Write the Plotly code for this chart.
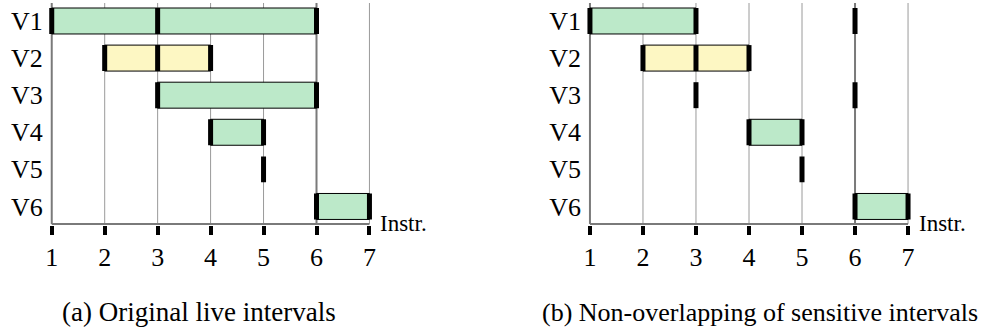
import plotly.graph_objects as go

# ---------------- data ----------------
variables = ["V1", "V2", "V3", "V4", "V5", "V6"]
instructions = [1, 2, 3, 4, 5, 6, 7]
x_axis_label = "Instr."
captions = ["(a) Original live intervals", "(b) Non-overlapping of sensitive intervals"]

# panel (a): interval segments
a_seg_var = ["V1", "V1", "V2", "V2", "V3", "V4", "V6"]
a_seg_start = [1, 3, 2, 3, 3, 4, 6]
a_seg_end = [3, 6, 3, 4, 6, 5, 7]
a_seg_kind = ["g", "g", "y", "y", "g", "g", "g"]
# panel (a): boundary markers
a_mark_var = ["V1", "V1", "V1", "V2", "V2", "V2", "V3", "V3", "V4", "V4", "V5", "V6", "V6"]
a_mark_x = [1, 3, 6, 2, 3, 4, 3, 6, 4, 5, 5, 6, 7]

# panel (b): interval segments
b_seg_var = ["V1", "V2", "V2", "V4", "V6"]
b_seg_start = [1, 2, 3, 4, 6]
b_seg_end = [3, 3, 4, 5, 7]
b_seg_kind = ["g", "y", "y", "g", "g"]
# panel (b): boundary markers
b_mark_var = ["V1", "V1", "V1", "V2", "V2", "V2", "V3", "V3", "V4", "V4", "V5", "V6", "V6"]
b_mark_x = [1, 3, 6, 2, 3, 4, 3, 6, 4, 5, 5, 6, 7]

# ---------------- styling / layout ----------------
W, H = 983, 336
FONT = "Liberation Serif"
GREEN = "#bce9c9"
YELLOW = "#fdf7c3"
GRID = "#9a9a9a"
AXIS = "#7a7a7a"
GRID_WIDTH = {6: 2}  # the instruction-6 grid line is drawn heavier in the original
HALF = 0.35          # half bar height (row units)
Y_TOP = 0.434        # y-range top
Y_BOT = 6.5          # y-range bottom
AXIS_Y = 6.472       # axis line position
GRID_TOP = 0.515
X_RANGE = [0.85, 7.12]

row = {v: i + 1 for i, v in enumerate(variables)}

fig = go.Figure()


def add_panel(xa, ya, seg_var, seg_start, seg_end, seg_kind, mark_var, mark_x):
    # grid lines
    for t in instructions[1:]:
        wdt = GRID_WIDTH.get(t, 1)
        fig.add_trace(go.Scatter(x=[t, t], y=[GRID_TOP, AXIS_Y], mode="lines",
                                 line=dict(color=GRID if wdt == 1 else AXIS, width=wdt),
                                 xaxis=xa, yaxis=ya, hoverinfo="skip", showlegend=False))
    # vertical axis at first instruction
    fig.add_trace(go.Scatter(x=[instructions[0], instructions[0]], y=[GRID_TOP, AXIS_Y], mode="lines",
                             line=dict(color=AXIS, width=2), xaxis=xa, yaxis=ya,
                             hoverinfo="skip", showlegend=False))
    # horizontal axis line
    fig.add_trace(go.Scatter(x=[instructions[0], instructions[-1]], y=[AXIS_Y, AXIS_Y], mode="lines",
                             line=dict(color=AXIS, width=2), xaxis=xa, yaxis=ya,
                             hoverinfo="skip", showlegend=False))
    # bars
    for kind, col in (("g", GREEN), ("y", YELLOW)):
        px, py = [], []
        for v, s, e, k in zip(seg_var, seg_start, seg_end, seg_kind):
            if k != kind:
                continue
            r = row[v]
            px += [s, e, e, s, s, None]
            py += [r - HALF, r - HALF, r + HALF, r + HALF, r - HALF, None]
        if px:
            fig.add_trace(go.Scatter(x=px, y=py, mode="lines", fill="toself", fillcolor=col,
                                     line=dict(color="black", width=1), xaxis=xa, yaxis=ya,
                                     hoverinfo="skip", showlegend=False))
    # boundary markers
    mx, my = [], []
    for v, x in zip(mark_var, mark_x):
        r = row[v]
        mx += [x, x, None]
        my += [r - HALF, r + HALF, None]
    fig.add_trace(go.Scatter(x=mx, y=my, mode="lines", line=dict(color="black", width=5),
                             xaxis=xa, yaxis=ya, hoverinfo="skip", showlegend=False))


add_panel("x", "y", a_seg_var, a_seg_start, a_seg_end, a_seg_kind, a_mark_var, a_mark_x)
add_panel("x2", "y2", b_seg_var, b_seg_start, b_seg_end, b_seg_kind, b_mark_var, b_mark_x)

dom_a = [43.8 / W, 375.8 / W]
dom_b = [582.0 / W, 914.4 / W]

xaxis_common = dict(range=X_RANGE, tickvals=instructions, ticktext=[str(t) for t in instructions],
                    ticks="outside", ticklen=9, tickwidth=4, tickcolor="black",
                    showgrid=False, zeroline=False, showline=False,
                    tickfont=dict(family=FONT, size=26, color="black"), fixedrange=True)
yaxis_common = dict(range=[Y_BOT, Y_TOP], tickvals=[row[v] for v in variables], ticktext=variables,
                    ticks="", showgrid=False, zeroline=False, showline=False,
                    tickfont=dict(family=FONT, size=26, color="black"), fixedrange=True)

fig.update_layout(
    width=W, height=H,
    margin=dict(l=0, r=0, t=0, b=111, pad=0),
    paper_bgcolor="white", plot_bgcolor="white",
    showlegend=False,
    font=dict(family=FONT, color="black"),
    xaxis=dict(domain=dom_a, anchor="y", **xaxis_common),
    yaxis=dict(domain=[0, 1], anchor="x", **yaxis_common),
    xaxis2=dict(domain=dom_b, anchor="y2", **xaxis_common),
    yaxis2=dict(domain=[0, 1], anchor="x2", **yaxis_common),
)

# "Instr." labels, just right of the last instruction tick
instr_x = (7.17 - X_RANGE[0]) / (X_RANGE[1] - X_RANGE[0])
for xr, yr in (("x domain", "y"), ("x2 domain", "y2")):
    fig.add_annotation(x=instr_x, y=AXIS_Y, xref=xr, yref=yr, text=x_axis_label, showarrow=False,
                       xanchor="left", yanchor="middle",
                       font=dict(family=FONT, size=23, color="black"))

# captions
cap_y = (225 - 312) / 225
for cx, txt, fs in zip((199 / W, 760 / W), captions, (27, 26)):
    fig.add_annotation(x=cx, y=cap_y, xref="paper", yref="paper", text=txt, showarrow=False,
                       xanchor="center", yanchor="middle",
                       font=dict(family=FONT, size=fs, color="black"))

fig.write_html("out.html")
